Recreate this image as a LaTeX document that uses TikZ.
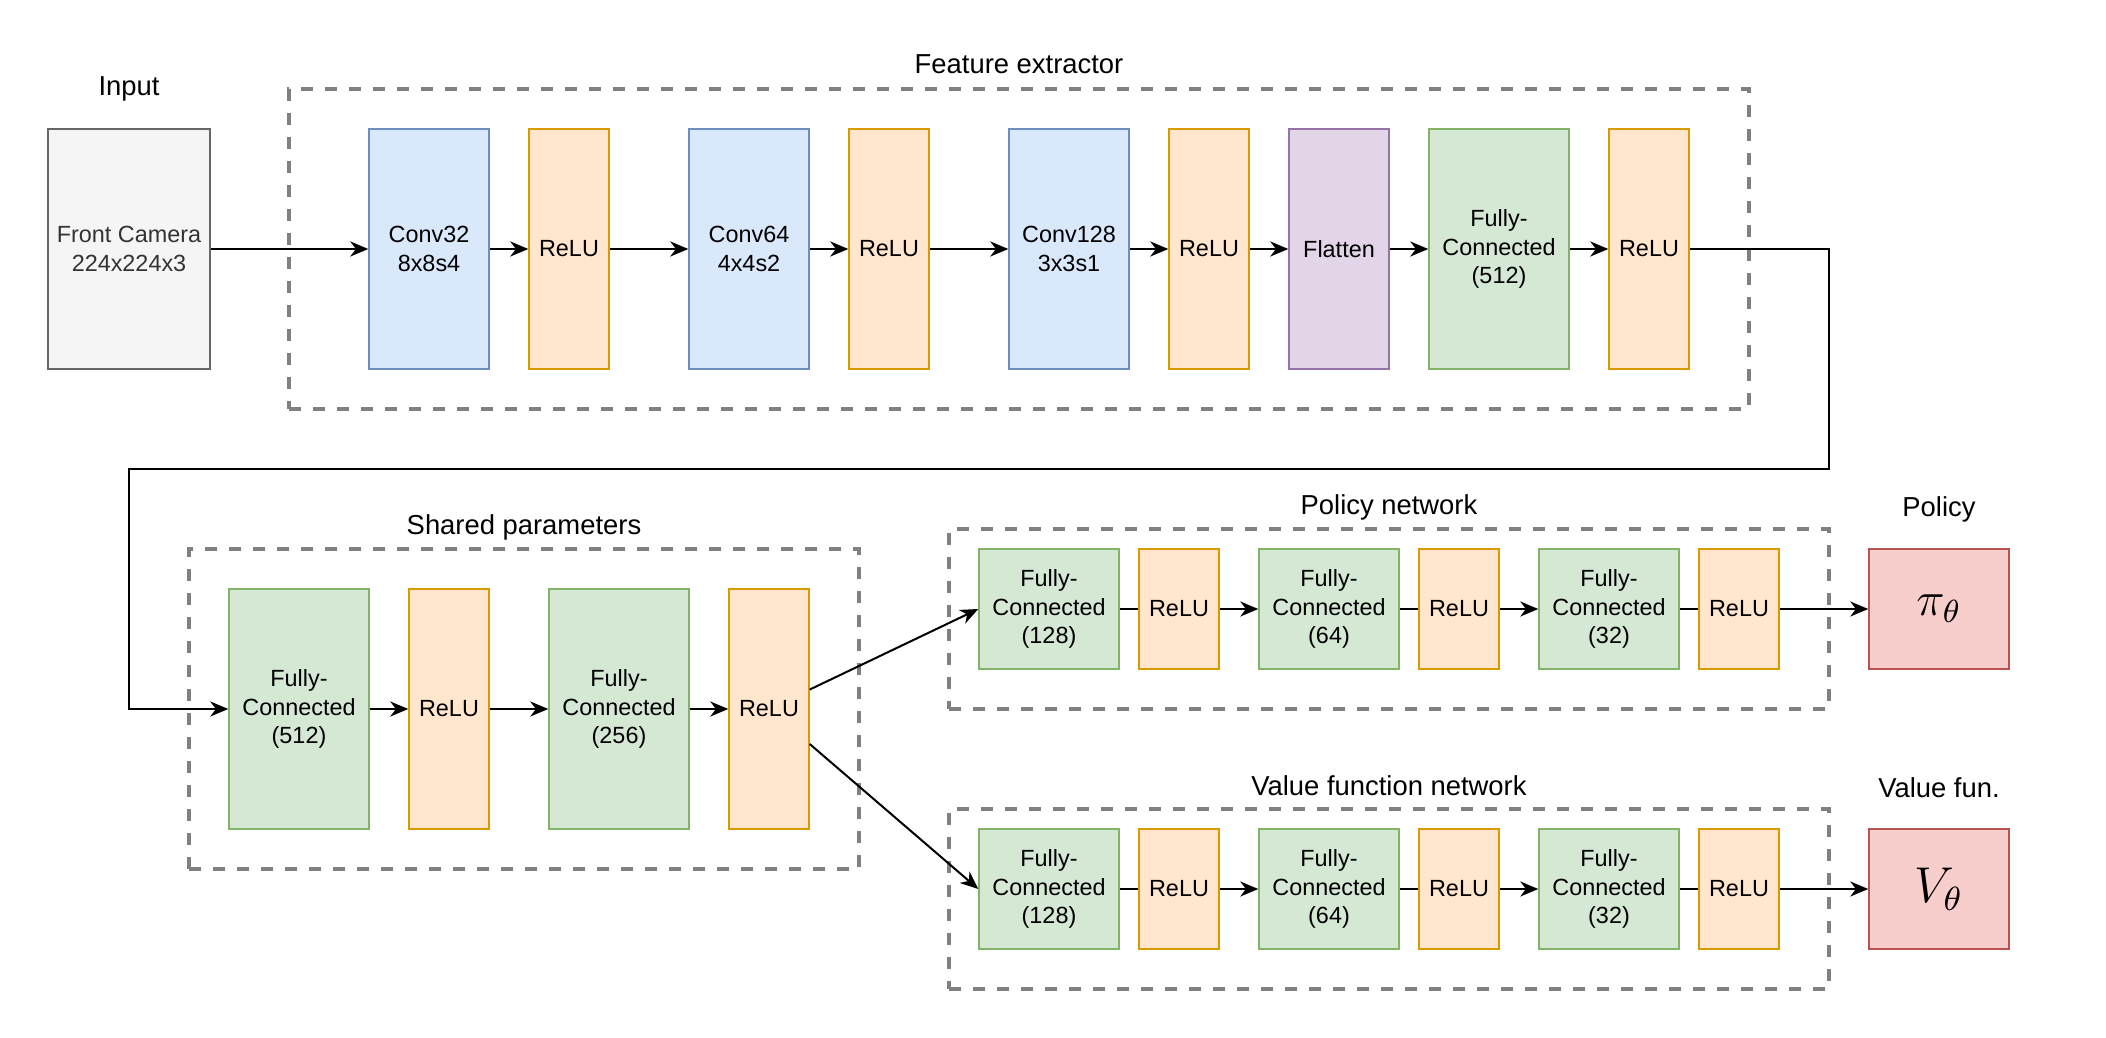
\documentclass[tikz,border=0pt]{standalone}
\usepackage[no-math]{fontspec}
\setmainfont{Liberation Sans}
\usetikzlibrary{arrows.meta}
\definecolor{bluefill}{HTML}{DAE8FC}
\definecolor{blueline}{HTML}{6C8EBF}
\definecolor{orangefill}{HTML}{FFE6CC}
\definecolor{orangeline}{HTML}{D79B00}
\definecolor{purplefill}{HTML}{E1D5E7}
\definecolor{purpleline}{HTML}{9673A6}
\definecolor{greenfill}{HTML}{D5E8D4}
\definecolor{greenline}{HTML}{82B366}
\definecolor{redfill}{HTML}{F8CECC}
\definecolor{redline}{HTML}{B85450}
\definecolor{grayfill}{HTML}{F5F5F5}
\definecolor{grayline}{HTML}{666666}
\definecolor{graytext}{HTML}{333333}
\definecolor{dashgray}{HTML}{808080}
\begin{document}
\begin{tikzpicture}[x=0.5pt,y=-0.5pt,
  blk/.style={draw, line width=0.7pt, inner sep=0pt, align=center,
    font=\fontsize{11.7}{14.3}\selectfont, minimum height=120pt},
  conv/.style={blk, fill=bluefill, draw=blueline, minimum width=60pt},
  relu/.style={blk, fill=orangefill, draw=orangeline, minimum width=40pt},
  flat/.style={blk, fill=purplefill, draw=purpleline, minimum width=50pt},
  fcl/.style={blk, fill=greenfill, draw=greenline, minimum width=70pt},
  half/.style={minimum height=60pt},
  outbox/.style={blk, fill=redfill, draw=redline, minimum width=70pt, minimum height=60pt},
  inbox/.style={blk, fill=grayfill, draw=grayline, text=graytext, minimum width=81pt},
  grp/.style={draw=dashgray, line width=1.6pt, dash pattern=on 6pt off 6pt, inner sep=0pt},
  ttl/.style={font=\fontsize{13.7}{16}\selectfont, anchor=base, inner sep=0pt},
  arr/.style={line width=1pt, -{Stealth[length=9pt,width=7.5pt,inset=2.8pt]}},
  ln/.style={line width=1pt}]
\useasboundingbox (0,0) rectangle (2106,1038);

% groups
\node[grp, minimum width=730pt, minimum height=160pt] (fe) at (1019,249) {};
\node[grp, minimum width=335pt, minimum height=160pt] (sp) at (524,709) {};
\node[grp, minimum width=440pt, minimum height=90pt] (pn) at (1389,619) {};
\node[grp, minimum width=440pt, minimum height=90pt] (vn) at (1389,899) {};

% titles
\node[ttl] (tin) at (129,96) {Input};
\node[ttl] (tfe) at (1019,74) {Feature extractor};
\node[ttl] (tsp) at (524,534) {Shared parameters};
\node[ttl] (tpn) at (1389,514) {Policy network};
\node[ttl] (tpo) at (1939,516) {Policy};
\node[ttl] (tvn) at (1389,795) {Value function network};
\node[ttl] (tvf) at (1939,797) {Value fun.};

% top row
\node[inbox] (in) at (129,249) {Front Camera\\224x224x3};
\node[conv] (c1) at (429,249) {Conv32\\8x8s4};
\node[relu] (r1) at (569,249) {ReLU};
\node[conv] (c2) at (749,249) {Conv64\\4x4s2};
\node[relu] (r2) at (889,249) {ReLU};
\node[conv] (c3) at (1069,249) {Conv128\\3x3s1};
\node[relu] (r3) at (1209,249) {ReLU};
\node[flat] (fl) at (1339,249) {Flatten};
\node[fcl] (f1) at (1499,249) {Fully-\\Connected\\(512)};
\node[relu] (r4) at (1649,249) {ReLU};

% shared
\node[fcl] (s1) at (299,709) {Fully-\\Connected\\(512)};
\node[relu] (sr1) at (449,709) {ReLU};
\node[fcl] (s2) at (619,709) {Fully-\\Connected\\(256)};
\node[relu] (sr2) at (769,709) {ReLU};

% policy
\node[fcl, half] (p1) at (1049,609) {Fully-\\Connected\\(128)};
\node[relu, half] (pr1) at (1179,609) {ReLU};
\node[fcl, half] (p2) at (1329,609) {Fully-\\Connected\\(64)};
\node[relu, half] (pr2) at (1459,609) {ReLU};
\node[fcl, half] (p3) at (1609,609) {Fully-\\Connected\\(32)};
\node[relu, half] (pr3) at (1739,609) {ReLU};
\node[outbox] (pi) at (1939,609) {\scalebox{2.0}{$\pi_\theta$}};

% value
\node[fcl, half] (v1) at (1049,889) {Fully-\\Connected\\(128)};
\node[relu, half] (vr1) at (1179,889) {ReLU};
\node[fcl, half] (v2) at (1329,889) {Fully-\\Connected\\(64)};
\node[relu, half] (vr2) at (1459,889) {ReLU};
\node[fcl, half] (v3) at (1609,889) {Fully-\\Connected\\(32)};
\node[relu, half] (vr3) at (1739,889) {ReLU};
\node[outbox] (vf) at (1939,889) {\scalebox{2.1}{$V_\theta$}};

% connectors
\draw[arr] (in) -- (c1);
\draw[arr] (c1) -- (r1);
\draw[arr] (r1) -- (c2);
\draw[arr] (c2) -- (r2);
\draw[arr] (r2) -- (c3);
\draw[arr] (c3) -- (r3);
\draw[arr] (r3) -- (fl);
\draw[arr] (fl) -- (f1);
\draw[arr] (f1) -- (r4);
\coordinate (k1) at (1829,469);
\coordinate (k2) at (129,469);
\draw[arr] (r4.east) -| (k1) -- (k2) |- (s1.west);
\draw[arr] (s1) -- (sr1);
\draw[arr] (sr1) -- (s2);
\draw[arr] (s2) -- (sr2);
\draw[arr] (sr2) -- (p1.west);
\draw[arr] (sr2) -- (v1.west);

\draw[ln] (p1) -- (pr1);
\draw[arr] (pr1) -- (p2);
\draw[ln] (p2) -- (pr2);
\draw[arr] (pr2) -- (p3);
\draw[ln] (p3) -- (pr3);
\draw[arr] (pr3) -- (pi);

\draw[ln] (v1) -- (vr1);
\draw[arr] (vr1) -- (v2);
\draw[ln] (v2) -- (vr2);
\draw[arr] (vr2) -- (v3);
\draw[ln] (v3) -- (vr3);
\draw[arr] (vr3) -- (vf);
\end{tikzpicture}
\end{document}
